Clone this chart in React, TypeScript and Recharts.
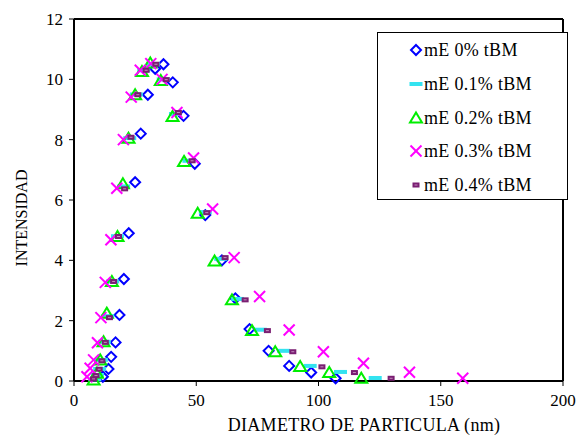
import React from 'react';
import { ScatterChart, Scatter, XAxis, YAxis, ReferenceLine, Legend } from 'recharts';

const xTicks = [0, 50, 100, 150, 200];
const yTicks = [0, 2, 4, 6, 8, 10, 12];

const seriesNames = ['mE 0% tBM', 'mE 0.1% tBM', 'mE 0.2% tBM', 'mE 0.3% tBM', 'mE 0.4% tBM'];

const s0x = [11.8, 14.1, 15.2, 17.0, 18.6, 20.4, 22.4, 25.0, 27.3, 30.2, 33.2, 36.6, 40.4, 44.8, 49.4, 53.7, 60.5, 66.0, 71.8, 79.6, 88.0, 97.0, 107.0];
const s0y = [0.14, 0.4, 0.8, 1.28, 2.19, 3.38, 4.9, 6.59, 8.2, 9.49, 10.35, 10.5, 9.9, 8.79, 7.2, 5.5, 4.0, 2.74, 1.72, 1.0, 0.5, 0.28, 0.09];

const s1x = [8.5, 9.6, 10.5, 11.2, 12.4, 13.8, 15.8, 17.8, 20.3, 22.8, 25.5, 28.5, 32.5, 36.5, 41.5, 47.0, 53.7, 60.0, 66.9, 76.2, 85.7, 96.6, 109.0, 123.2];
const s1y = [0.05, 0.2, 0.4, 0.7, 1.3, 2.15, 3.3, 4.8, 6.45, 8.05, 9.5, 10.3, 10.5, 10.0, 8.85, 7.3, 5.6, 4.05, 2.72, 1.7, 1.0, 0.5, 0.3, 0.1];

const s2x = [8.0, 9.4, 10.7, 12.1, 13.4, 15.5, 17.8, 20.0, 22.3, 25.0, 27.8, 31.2, 35.5, 40.3, 45.0, 50.6, 57.5, 64.6, 72.8, 82.3, 92.5, 104.4, 117.5];
const s2y = [0.03, 0.26, 0.7, 1.3, 2.25, 3.3, 4.79, 6.54, 8.05, 9.49, 10.26, 10.54, 9.96, 8.77, 7.28, 5.56, 3.98, 2.69, 1.67, 0.97, 0.48, 0.28, 0.09];

const s3x = [5.3, 6.6, 8.0, 9.6, 11.0, 12.8, 15.1, 17.5, 20.2, 23.4, 27.1, 31.4, 36.0, 42.1, 48.9, 56.7, 65.5, 75.9, 88.0, 102.0, 118.4, 137.2, 159.0];
const s3y = [0.14, 0.42, 0.7, 1.27, 2.1, 3.27, 4.68, 6.39, 8.0, 9.41, 10.3, 10.52, 10.0, 8.9, 7.39, 5.7, 4.09, 2.8, 1.69, 0.97, 0.59, 0.29, 0.09];

const s4x = [8.0, 9.0, 10.3, 11.4, 12.8, 14.5, 16.2, 18.2, 20.7, 23.3, 26.1, 29.5, 33.5, 37.7, 42.7, 48.3, 54.3, 61.8, 70.0, 79.1, 89.5, 101.4, 114.7, 129.7];
const s4y = [0.07, 0.18, 0.39, 0.67, 1.28, 2.1, 3.3, 4.79, 6.37, 8.08, 9.49, 10.3, 10.5, 9.99, 8.9, 7.3, 5.58, 4.09, 2.69, 1.67, 0.97, 0.47, 0.28, 0.09];

const toPts = (xs: number[], ys: number[]) => xs.map((x, i) => ({ x, y: ys[i] }));

const FONT = '"Liberation Serif", "Times New Roman", serif';

const drawMarker = (k: number, cx: number, cy: number) => {
  switch (k) {
    case 0:
      return <path d={`M${cx},${cy - 5}L${cx + 5},${cy}L${cx},${cy + 5}L${cx - 5},${cy}Z`} fill="none" stroke="#0000FF" strokeWidth={2} />;
    case 1:
      return <rect x={cx - 6.5} y={cy - 2} width={13} height={4} fill="#33E3F0" />;
    case 2:
      return <path d={`M${cx},${cy - 5.5}L${cx + 6},${cy + 4.5}L${cx - 6},${cy + 4.5}Z`} fill="none" stroke="#00EE00" strokeWidth={2} />;
    case 3:
      return (
        <g stroke="#FF00FF" strokeWidth={2}>
          <line x1={cx - 5.5} y1={cy - 5.5} x2={cx + 5.5} y2={cy + 5.5} />
          <line x1={cx - 5.5} y1={cy + 5.5} x2={cx + 5.5} y2={cy - 5.5} />
        </g>
      );
    default:
      return (
        <g>
          <rect x={cx - 3.5} y={cy - 2.5} width={7} height={5} fill="#7A1F72" />
          <line x1={cx - 1.5} y1={cy} x2={cx + 1.5} y2={cy} stroke="#C58FC0" strokeWidth={1} />
        </g>
      );
  }
};

const makeShape = (k: number) => (props: any) => {
  const { cx, cy } = props;
  if (cx == null || cy == null) return <g />;
  return drawMarker(k, cx, cy);
};

const LegendBox = () => (
  <div
    style={{
      position: 'relative',
      width: 191,
      height: 168,
      border: '1px solid #000',
      background: '#fff',
      boxSizing: 'border-box',
      fontFamily: FONT,
    }}
  >
    {seriesNames.map((name, i) => (
      <div key={name} style={{ position: 'absolute', left: 0, top: 17 + i * 33.8 - 11, height: 22, width: 190 }}>
        <svg width={16} height={16} style={{ position: 'absolute', left: 30, top: 3 }}>
          {drawMarker(i, 8, 8)}
        </svg>
        <span
          style={{
            position: 'absolute',
            left: 46,
            top: 0,
            lineHeight: '22px',
            fontSize: 18,
            letterSpacing: 0.3,
            whiteSpace: 'nowrap',
            color: '#000',
          }}
        >
          {name}
        </span>
      </div>
    ))}
  </div>
);

const YTitle = (props: any) => {
  const vb = props.viewBox || { y: 19, height: 362 };
  const cx = 21;
  const cy = 218;
  return (
    <text x={cx} y={cy} transform={`rotate(-90 ${cx} ${cy})`} textAnchor="middle" dominantBaseline="central" fontFamily={FONT} fontSize={16} fill="#000">
      INTENSIDAD
    </text>
  );
};

const XTitle = () => (
  <text x={364} y={431} textAnchor="middle" fontFamily={FONT} fontSize={18} letterSpacing={0.3} fill="#000">
    DIAMETRO DE PARTICULA (nm)
  </text>
);

const series = [
  toPts(s0x, s0y),
  toPts(s1x, s1y),
  toPts(s2x, s2y),
  toPts(s3x, s3y),
  toPts(s4x, s4y),
];

export default function App() {
  return (
    <div style={{ position: 'absolute', left: 0, top: 0, width: 579, height: 435, background: '#fff' }}>
      <ScatterChart width={579} height={435} margin={{ top: 19, right: 16, bottom: 0, left: 0 }}>
        <XAxis
          type="number"
          dataKey="x"
          domain={[0, 200]}
          ticks={xTicks}
          interval={0}
          axisLine={{ stroke: '#000', strokeWidth: 2 }}
          tickLine={{ stroke: '#000', strokeWidth: 1 }}
          tickSize={5}
          tickMargin={8}
          height={54}
          tick={{ fill: '#000', fontSize: 17, fontFamily: FONT }}
          label={{ content: XTitle }}
        />
        <YAxis
          type="number"
          dataKey="y"
          domain={[0, 12]}
          ticks={yTicks}
          interval={0}
          width={74}
          axisLine={{ stroke: '#000', strokeWidth: 2 }}
          tickLine={{ stroke: '#000', strokeWidth: 1 }}
          tickSize={5}
          tickMargin={6}
          tick={{ fill: '#000', fontSize: 17, fontFamily: FONT }}
          label={{ content: YTitle }}
        />
        <ReferenceLine y={12} stroke="#000" strokeWidth={2} />
        <ReferenceLine x={200} stroke="#000" strokeWidth={2} />
        {series.map((pts, k) => (
          <Scatter key={k} name={seriesNames[k]} data={pts} shape={makeShape(k)} isAnimationActive={false} />
        ))}
        <Legend
          layout="vertical"
          align="center"
          verticalAlign="middle"
          content={() => <LegendBox />}
          wrapperStyle={{ position: 'absolute', left: 377, top: 32, width: 191, height: 168 }}
        />
      </ScatterChart>
    </div>
  );
}
